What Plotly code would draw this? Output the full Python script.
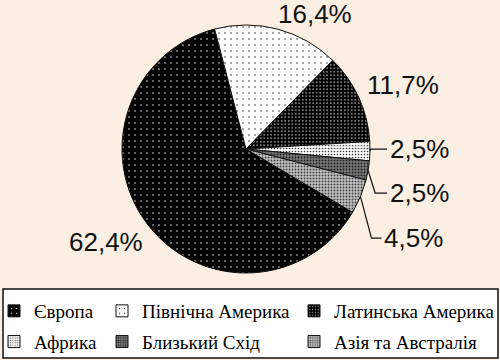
import math
import plotly.graph_objects as go

# ---- data ----
regions = ["Європа", "Північна Америка", "Латинська Америка",
           "Африка", "Близький Схід", "Азія та Австралія"]
shares = [62.4, 16.4, 11.7, 2.5, 2.5, 4.5]

# ---- styles ----
W, H = 500, 360
ML, MR, MT, MB = 122, 130, 25, 87
PW, PH = W - ML - MR, H - MT - MB
CX, CY, RAD = ML + PW / 2, MT + PH / 2, min(PW, PH) / 2
ROTATION = 120.7
BG = "#FBEFE3"

patterns = [
    dict(shape=".", bgcolor="#000000", fgcolor="#e0e0e0", size=6, solidity=0.06, fillmode="replace"),
    dict(shape=".", bgcolor="#ffffff", fgcolor="#222222", size=6, solidity=0.05, fillmode="replace"),
    dict(shape=".", bgcolor="#000000", fgcolor="#aaaaaa", size=3.5, solidity=0.18, fillmode="replace"),
    dict(shape=".", bgcolor="#ffffff", fgcolor="#444444", size=3, solidity=0.25, fillmode="replace"),
    dict(shape=".", bgcolor="#7a7a7a", fgcolor="#1a1a1a", size=3, solidity=0.3, fillmode="replace"),
    dict(shape=".", bgcolor="#c4c4c4", fgcolor="#444444", size=3, solidity=0.35, fillmode="replace"),
]
# label placement styles: (xanchor, xshift, yshift) for direct labels,
# leader: (elbow dx, elbow dy, horizontal length) in px
label_style = [
    dict(xanchor="right", xshift=-2, yshift=-18, leader=None),
    dict(xanchor="left", xshift=-2, yshift=15, leader=None),
    dict(xanchor="left", xshift=6, yshift=12, leader=None),
    dict(xanchor="left", xshift=0, yshift=0, leader=(0, -2, 17)),
    dict(xanchor="left", xshift=0, yshift=0, leader=(7, 22.5, 12)),
    dict(xanchor="left", xshift=0, yshift=0, leader=(11, 41.5, 10)),
]
legend_cols = [0, 1, 2, 0, 1, 2]
legend_left_px = [-6, 102, 294]
legend_top_px = 292
box_top_px, box_bottom_px = 289, 358


def px2paper(x, y):
    return (x - ML) / PW, (H - MB - y) / PH


fig = go.Figure()
fig.add_trace(go.Pie(
    labels=regions, values=shares, sort=False, direction="clockwise",
    rotation=ROTATION, textinfo="none", hoverinfo="label+percent",
    marker=dict(pattern=dict(shape=[p["shape"] for p in patterns],
                             bgcolor=[p["bgcolor"] for p in patterns],
                             fgcolor=[p["fgcolor"] for p in patterns],
                             size=[p["size"] for p in patterns],
                             solidity=[p["solidity"] for p in patterns],
                             fillmode="replace"),
                line=dict(color="#111111", width=1)),
    showlegend=False,
))

# legend entries (three columns)
for i, name in enumerate(regions):
    col = legend_cols[i]
    fig.add_trace(go.Bar(
        x=[None], y=[None], name=name, legendgroup=name,
        legend="legend" if col == 0 else f"legend{col + 1}",
        marker=dict(pattern=patterns[i], line=dict(color="#111111", width=1)),
        hoverinfo="skip",
    ))

# percentage labels and leader lines
annotations, shapes = [], []
total = sum(shares)
cum = ROTATION
for i, v in enumerate(shares):
    span = v / total * 360
    mid = math.radians(cum + span / 2)
    cum += span
    ex, ey = CX + RAD * math.sin(mid), CY - RAD * math.cos(mid)
    st = label_style[i]
    text = f"{v:.1f}%".replace(".", ",")
    if st["leader"] is None:
        ax, ay = px2paper(ex, ey)
        annotations.append(dict(x=ax, y=ay, xref="paper", yref="paper", text=text,
                                showarrow=False, xanchor=st["xanchor"], yanchor="middle",
                                xshift=st["xshift"], yshift=st["yshift"]))
    else:
        dx, dy, ln = st["leader"]
        bx, by = ex + dx, ey + dy
        fx, fy = bx + ln, by
        p0, p1, p2 = px2paper(ex, ey), px2paper(bx, by), px2paper(fx, fy)
        shapes.append(dict(type="path", xref="paper", yref="paper",
                           path=f"M {p0[0]},{p0[1]} L {p1[0]},{p1[1]} L {p2[0]},{p2[1]}",
                           line=dict(color="#111111", width=1.2)))
        annotations.append(dict(x=p2[0], y=p2[1], xref="paper", yref="paper", text=text,
                                showarrow=False, xanchor="left", yanchor="middle",
                                xshift=1))

# legend box
bx0, by0 = px2paper(3, box_top_px)
bx1, by1 = px2paper(498, box_bottom_px)
shapes.append(dict(type="rect", xref="paper", yref="paper", x0=bx0, y0=by1, x1=bx1, y1=by0,
                   line=dict(color="#111111", width=1.5), fillcolor="#ffffff", layer="below"))

legend_common = dict(yref="paper", xref="paper", yanchor="top", xanchor="left",
                     bgcolor="rgba(0,0,0,0)", borderwidth=0, tracegroupgap=3,
                     font=dict(family="Liberation Serif, Times New Roman, serif", size=19, color="#000000"))
ly = px2paper(0, legend_top_px)[1]
legends = {}
for c in range(3):
    key = "legend" if c == 0 else f"legend{c + 1}"
    legends[key] = dict(x=px2paper(legend_left_px[c], 0)[0], y=ly, **legend_common)

fig.update_layout(
    width=W, height=H,
    margin=dict(l=ML, r=MR, t=MT, b=MB, autoexpand=False),
    paper_bgcolor=BG, plot_bgcolor=BG,
    font=dict(family="Liberation Sans, Arial, sans-serif", size=26, color="#111111"),
    xaxis=dict(visible=False), yaxis=dict(visible=False),
    annotations=annotations, shapes=shapes,
    **legends,
)

fig.write_html("out.html", config={"displayModeBar": False},
               post_script="document.body.style.margin='0';document.body.style.background='" + BG + "';")
